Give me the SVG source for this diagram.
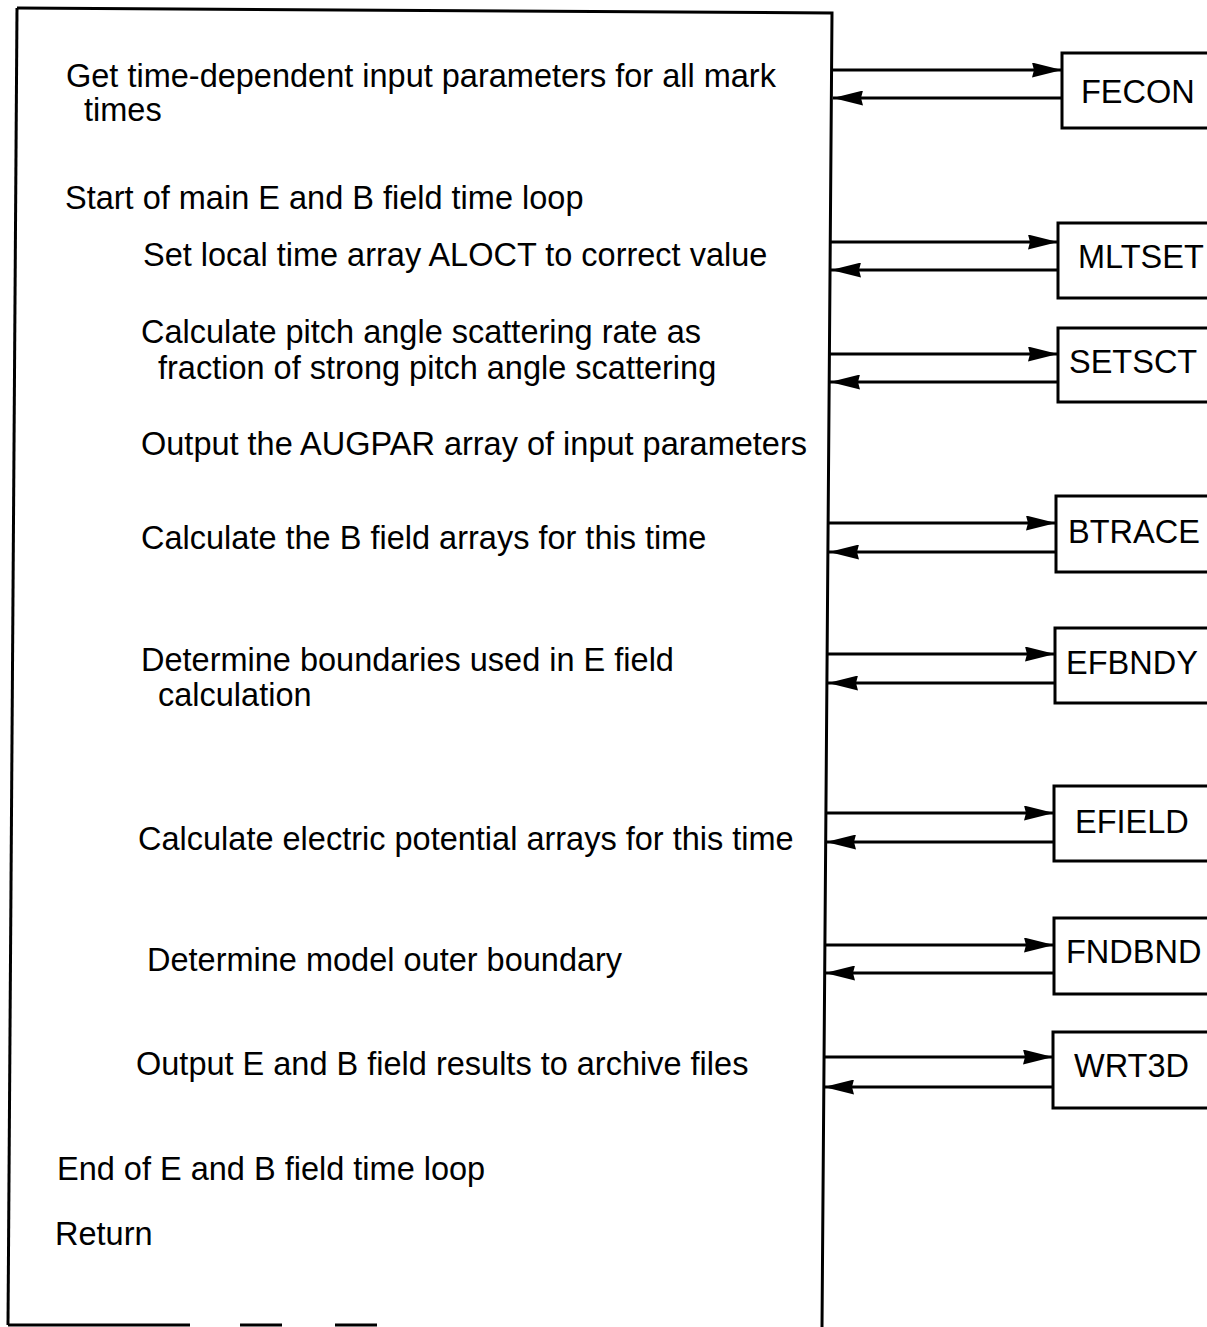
<svg xmlns="http://www.w3.org/2000/svg" width="1207" height="1327" viewBox="0 0 1207 1327">
<defs>
<style>
.t{font-family:"Liberation Sans",Arial,sans-serif;font-size:32.5px;fill:#000}
.box{fill:#fff;stroke:#000;stroke-width:3}
.ln{fill:none;stroke:#000;stroke-width:3}
.c{stroke:#000;stroke-width:3;fill:none;marker-end:url(#ah)}
</style>
<marker id="ah" viewBox="0 0 30 15" refX="30" refY="7.5" markerWidth="30" markerHeight="15" markerUnits="userSpaceOnUse" orient="auto">
<path d="M0,0 L30,7.5 L0,15 L2,7.5 z" fill="#000"/>
</marker>
</defs>
<rect width="1207" height="1327" fill="#fff"/>
<g id="main">
<path class="ln" d="M17,8 L832,13 L822,1327"/>
<path class="ln" d="M17,8 L8,1325"/>
<path class="ln" d="M8,1325 L190,1325 M240,1325 L282,1325 M335,1325 L377,1325"/>
<text class="t" x="66" y="87">Get time-dependent input parameters for all mark</text>
<text class="t" x="84" y="121">times</text>
<text class="t" x="65" y="209">Start of main E and B field time loop</text>
<text class="t" x="143" y="266">Set local time array ALOCT to correct value</text>
<text class="t" x="141" y="343">Calculate pitch angle scattering rate as</text>
<text class="t" x="158" y="379">fraction of strong pitch angle scattering</text>
<text class="t" x="141" y="455">Output the AUGPAR array of input parameters</text>
<text class="t" x="141" y="549">Calculate the B field arrays for this time</text>
<text class="t" x="141" y="671">Determine boundaries used in E field</text>
<text class="t" x="158" y="706">calculation</text>
<text class="t" x="138" y="850">Calculate electric potential arrays for this time</text>
<text class="t" x="147" y="971">Determine model outer boundary</text>
<text class="t" x="136" y="1075">Output E and B field results to archive files</text>
<text class="t" x="57" y="1180">End of E and B field time loop</text>
<text class="t" x="55" y="1245">Return</text>
</g>
<g id="connectors">
<line class="c" x1="832" y1="70" x2="1062" y2="70"/>
<line class="c" x1="1062" y1="98" x2="833" y2="98"/>
<line class="c" x1="831" y1="242" x2="1058" y2="242"/>
<line class="c" x1="1058" y1="270" x2="831" y2="270"/>
<line class="c" x1="830" y1="354" x2="1058" y2="354"/>
<line class="c" x1="1058" y1="382" x2="830" y2="382"/>
<line class="c" x1="829" y1="523" x2="1056" y2="523"/>
<line class="c" x1="1056" y1="552" x2="829" y2="552"/>
<line class="c" x1="828" y1="654" x2="1055" y2="654"/>
<line class="c" x1="1055" y1="683" x2="828" y2="683"/>
<line class="c" x1="826" y1="813" x2="1054" y2="813"/>
<line class="c" x1="1054" y1="842" x2="826" y2="842"/>
<line class="c" x1="825" y1="945" x2="1054" y2="945"/>
<line class="c" x1="1054" y1="973" x2="825" y2="973"/>
<line class="c" x1="824" y1="1057" x2="1053" y2="1057"/>
<line class="c" x1="1053" y1="1087" x2="824" y2="1087"/>
</g>
<g id="FECON"><rect class="box" x="1062" y="53" width="160" height="75"/><text class="t" x="1081" y="103">FECON</text></g>
<g id="MLTSET"><rect class="box" x="1058" y="223" width="160" height="75"/><text class="t" x="1078" y="268">MLTSET</text></g>
<g id="SETSCT"><rect class="box" x="1058" y="328" width="160" height="74"/><text class="t" x="1069" y="373">SETSCT</text></g>
<g id="BTRACE"><rect class="box" x="1056" y="496" width="160" height="76"/><text class="t" x="1068" y="543">BTRACE</text></g>
<g id="EFBNDY"><rect class="box" x="1055" y="628" width="160" height="75"/><text class="t" x="1066" y="674">EFBNDY</text></g>
<g id="EFIELD"><rect class="box" x="1054" y="786" width="160" height="75"/><text class="t" x="1075" y="833">EFIELD</text></g>
<g id="FNDBND"><rect class="box" x="1054" y="918" width="160" height="76"/><text class="t" x="1066" y="963">FNDBND</text></g>
<g id="WRT3D"><rect class="box" x="1053" y="1032" width="160" height="76"/><text class="t" x="1074" y="1077">WRT3D</text></g>
</svg>
